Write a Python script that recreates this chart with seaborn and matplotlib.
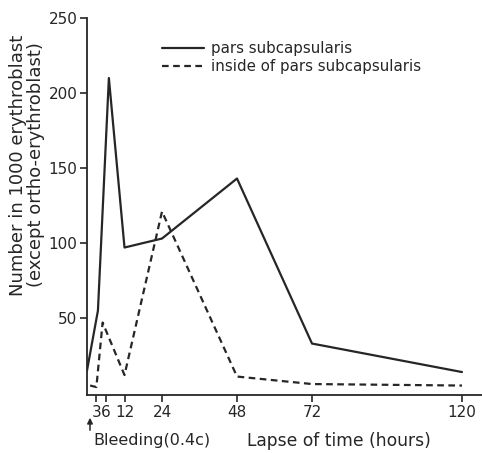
import pandas as pd
import numpy as np
import matplotlib
matplotlib.use("Agg")
import matplotlib.pyplot as plt
import seaborn as sns

# hours after bleeding
hours_outer = [0, 3.5, 7, 12, 24, 48, 72, 120]
pars_subcapsularis = [15, 55, 210, 97, 103, 143, 33, 14]

hours_inner = [1, 3, 5, 12, 24, 48, 72, 120]
inside_pars = [5, 4, 47, 12, 121, 11, 6, 5]

x_ticks = [3, 6, 12, 24, 48, 72, 120]
x_tick_labels = ["3", "6", "12", "24", "48", "72", "120"]
y_ticks = [50, 100, 150, 200, 250]

sns.set_style("ticks")
plt.rcParams["font.family"] = ["DejaVu Sans"]

ink = "#262626"

df_outer = pd.DataFrame({"hours": hours_outer, "count": pars_subcapsularis})
df_inner = pd.DataFrame({"hours": hours_inner, "count": inside_pars})

fig = plt.figure(figsize=(4.82, 4.53), dpi=100)
ax = fig.add_axes([87 / 482, 1 - 395 / 453, 1 - 87 / 482, (395 - 18) / 453])

sns.lineplot(x="hours", y="count", data=df_outer, ax=ax, color=ink, lw=1.6,
             label="pars subcapsularis")
sns.lineplot(x="hours", y="count", data=df_inner, ax=ax, color=ink, lw=1.6,
             linestyle=(0, (3, 2)), label="inside of pars subcapsularis")

ax.set_xlim(0, 126.4)
ax.set_ylim(-1.3, 250)
ax.set_xticks(x_ticks)
ax.set_xticklabels(x_tick_labels)
ax.set_yticks(y_ticks)
ax.tick_params(axis="both", colors=ink, labelsize=11, length=5, width=1.2, pad=2)
for s in ["left", "bottom"]:
    ax.spines[s].set_color(ink)
    ax.spines[s].set_linewidth(1.3)
sns.despine(ax=ax)
ax.set_xlabel("")
ax.set_ylabel("")

leg = ax.legend(loc="upper left", bbox_to_anchor=(0.175, 0.955), frameon=False,
                fontsize=10.8, handlelength=2.8, handletextpad=0.45,
                labelspacing=0.2, borderaxespad=0)
for t in leg.get_texts():
    t.set_color(ink)

fig.text(27 / 482, 1 - 165 / 453,
         "Number in 1000 erythroblast\n(except ortho-erythroblast)",
         rotation=90, ha="center", va="center", fontsize=13, color=ink,
         linespacing=0.95)

fig.text(339 / 482, 1 - 441 / 453, "Lapse of time (hours)",
         ha="center", va="center", fontsize=12.3, color=ink)
fig.text(93 / 482, 1 - 441 / 453, "Bleeding(0.4c)",
         ha="left", va="center", fontsize=11.5, color=ink)
ax.annotate("", xy=(90 / 482, 1 - 415 / 453), xytext=(90 / 482, 1 - 433 / 453),
            xycoords="figure fraction", textcoords="figure fraction",
            arrowprops=dict(arrowstyle="-|>", color=ink, lw=1.1,
                            mutation_scale=8))

fig.savefig("out.png", dpi=100)
